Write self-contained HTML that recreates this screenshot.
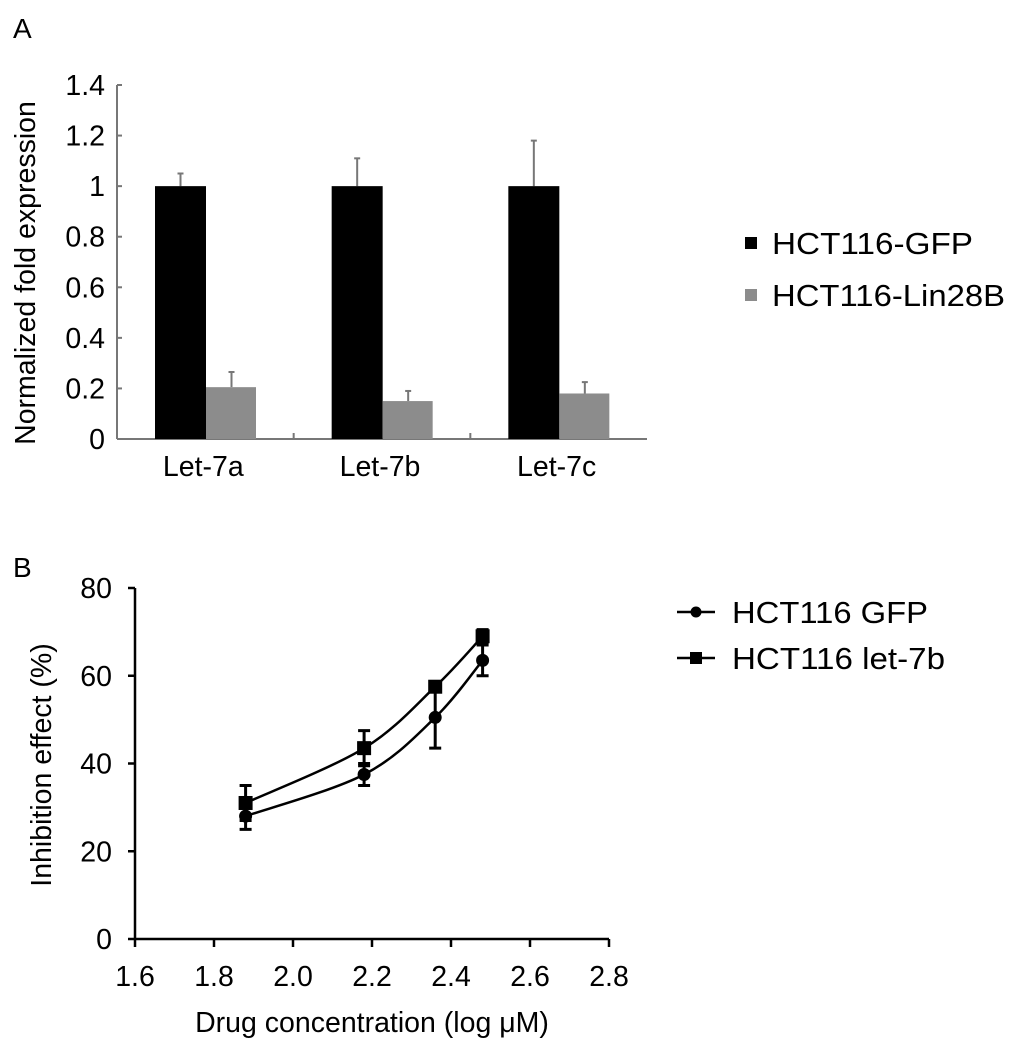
<!DOCTYPE html>
<html><head><meta charset="utf-8">
<style>
html,body{margin:0;padding:0;background:#fff;}
svg{display:block;font-family:"Liberation Sans",Arial,sans-serif;}
</style></head>
<body>
<svg id="fig" width="1021" height="1050" viewBox="0 0 1021 1050" xmlns="http://www.w3.org/2000/svg">
<text x="13" y="38" font-size="28">A</text>
<text x="13" y="577" font-size="28">B</text>
<g id="panelA"></g>
<g id="panelB"></g>
</svg>
<script>
// Panel A data
const catsA = ["Let-7a","Let-7b","Let-7c"];
const gfpVals = [1,1,1];
const gfpErr = [0.05,0.11,0.18];
const linVals = [0.205,0.15,0.18];
const linErr = [0.06,0.04,0.045];
const ticksA = ["0","0.2","0.4","0.6","0.8","1","1.2","1.4"];
// Panel B data
const xB = [1.88,2.18,2.36,2.48];
const gfpB = [28,37.5,50.5,63.5];
const gfpBErr = [3,2.5,7,3.5];
const letB = [31,43.5,57.5,69];
const letBErr = [4,4,1,1.5];
const xTicksB = ["1.6","1.8","2.0","2.2","2.4","2.6","2.8"];
const yTicksB = ["0","20","40","60","80"];

const NS="http://www.w3.org/2000/svg";
function mk(parent,tag,attrs,text){const e=document.createElementNS(NS,tag);for(const k in attrs)e.setAttribute(k,attrs[k]);if(text!==undefined)e.textContent=text;parent.appendChild(e);return e;}

// ---- Panel A
const A=document.getElementById('panelA');
const ax0=117, ax1=647, ay0=439, ay1=85;
const yA=v=>ay0-(v/1.4)*(ay0-ay1);
const gw=(ax1-ax0)/catsA.length;
let e;
e=mk(A,'line',{x1:ax0,y1:ay1,x2:ax0,y2:ay0,stroke:'#777','stroke-width':2});


e=mk(A,'line',{x1:ax0,y1:ay0,x2:ax1,y2:ay0,stroke:'#777','stroke-width':2});


ticksA.forEach(t=>{const y=yA(parseFloat(t));
 mk(A,'line',{x1:ax0,y1:y,x2:ax0+5,y2:y,stroke:'#777','stroke-width':2});
 e=mk(A,'text',{x:105,y:y+10,'font-size':28.5,'text-anchor':'end'},t);
 
 
});
for(let i=1;i<catsA.length;i++){const x=ax0+gw*i;mk(A,'line',{x1:x,y1:ay0,x2:x,y2:ay0-6,stroke:'#777','stroke-width':2});}
catsA.forEach((c,i)=>{
 const gx=ax0+gw*i, bw=51, b1=gx+38;
 [[gfpVals[i],gfpErr[i],b1+bw/2,'#777'],[linVals[i],linErr[i],b1+bw+bw/2,'#777']].forEach(([v,er,cx,col])=>{
   mk(A,'line',{x1:cx,y1:yA(v),x2:cx,y2:yA(v+er),stroke:col,'stroke-width':2});
   mk(A,'line',{x1:cx-3,y1:yA(v+er),x2:cx+3,y2:yA(v+er),stroke:col,'stroke-width':2});
 });
 e=mk(A,'rect',{x:b1,y:yA(gfpVals[i]),width:bw,height:ay0-yA(gfpVals[i]),fill:'#000'});
 
 
 e=mk(A,'rect',{x:b1+bw,y:yA(linVals[i]),width:bw-1,height:ay0-yA(linVals[i]),fill:'#8c8c8c'});
 
 
 e=mk(A,'text',{x:gx+gw/2-2,y:476,'font-size':28.5,'text-anchor':'middle'},c);
 
 
});
e=mk(A,'text',{x:0,y:0,'font-size':28.5,'text-anchor':'middle',transform:'translate(35,273) rotate(-90)'},'Normalized fold expression');


[['HCT116-GFP','#000',243,201],['HCT116-Lin28B','#8c8c8c',295,233]].forEach(([t,c,y,w])=>{
 const g=mk(A,'g',{});
 
 
 mk(g,'rect',{x:745,y:y-6,width:12,height:12,fill:c});
 mk(g,'text',{x:772,y:y+11,'font-size':31,textLength:w,lengthAdjust:'spacingAndGlyphs'},t);
});

// ---- Panel B
const B=document.getElementById('panelB');
const bx0=135,bx1=609,by0=939,by1=588;
const xS=v=>bx0+(v-1.6)/1.2*(bx1-bx0);
const yS=v=>by0-v/80*(by0-by1);
e=mk(B,'line',{x1:bx0,y1:by1,x2:bx0,y2:by0,stroke:'#000','stroke-width':2.5});


e=mk(B,'line',{x1:bx0,y1:by0,x2:bx1,y2:by0,stroke:'#000','stroke-width':2.5});


yTicksB.forEach(t=>{const y=yS(+t);
 mk(B,'line',{x1:bx0-7,y1:y,x2:bx0,y2:y,stroke:'#000','stroke-width':2.5});
 e=mk(B,'text',{x:112,y:y+10,'font-size':28.5,'text-anchor':'end'},t);
 
 
});
xTicksB.forEach(t=>{const x=xS(+t);
 mk(B,'line',{x1:x,y1:by0,x2:x,y2:by0+8,stroke:'#000','stroke-width':2.5});
 e=mk(B,'text',{x:x,y:986,'font-size':28.5,'text-anchor':'middle'},t);
 
 
});
function curve(ys){
 const p=xB.map((x,i)=>[xS(x),yS(ys[i])]);
 let d='M'+p[0][0]+','+p[0][1];
 for(let i=0;i<p.length-1;i++){
  const p0=p[i-1]||p[i],p1=p[i],p2=p[i+1],p3=p[i+2]||p2;
  const c1=[p1[0]+(p2[0]-p0[0])/6,p1[1]+(p2[1]-p0[1])/6];
  const c2=[p2[0]-(p3[0]-p1[0])/6,p2[1]-(p3[1]-p1[1])/6];
  d+=' C'+c1+' '+c2+' '+p2;
 }
 return d;
}
[[gfpB,gfpBErr,'circle','gfp'],[letB,letBErr,'square','let-7b']].forEach(([ys,er,shape,nm])=>{
 e=mk(B,'path',{d:curve(ys),fill:'none',stroke:'#000','stroke-width':2.5});
 
 
 xB.forEach((x,i)=>{
  const cx=xS(x),cy=yS(ys[i]),t=yS(ys[i]+er[i]),b=yS(ys[i]-er[i]);
  mk(B,'path',{d:`M${cx},${t}V${b}M${cx-6},${t}H${cx+6}M${cx-6},${b}H${cx+6}`,stroke:'#000','stroke-width':3,fill:'none'});
  if(shape==='circle') e=mk(B,'circle',{cx:cx,cy:cy,r:6.5,fill:'#000'});
  else e=mk(B,'rect',{x:cx-7,y:cy-7,width:14,height:14,fill:'#000'});
  
  
 });
});
e=mk(B,'text',{x:0,y:0,'font-size':28.5,'text-anchor':'middle',transform:'translate(51,765) rotate(-90)'},'Inhibition effect (%)');


e=mk(B,'text',{x:372,y:1032,'font-size':28.5,'text-anchor':'middle'},'Drug concentration (log μM)');


[['HCT116 GFP','circle',612,196],['HCT116 let-7b','square',658,213]].forEach(([t,s,y,w])=>{
 const g=mk(B,'g',{});
 
 
 mk(g,'line',{x1:677,y1:y,x2:715,y2:y,stroke:'#000','stroke-width':2.5});
 if(s==='circle') mk(g,'circle',{cx:696,cy:y,r:5.5,fill:'#000'});
 else mk(g,'rect',{x:690,y:y-6,width:12,height:12,fill:'#000'});
 mk(g,'text',{x:732,y:y+11,'font-size':31,textLength:w,lengthAdjust:'spacingAndGlyphs'},t);
});
</script>
</body></html>
